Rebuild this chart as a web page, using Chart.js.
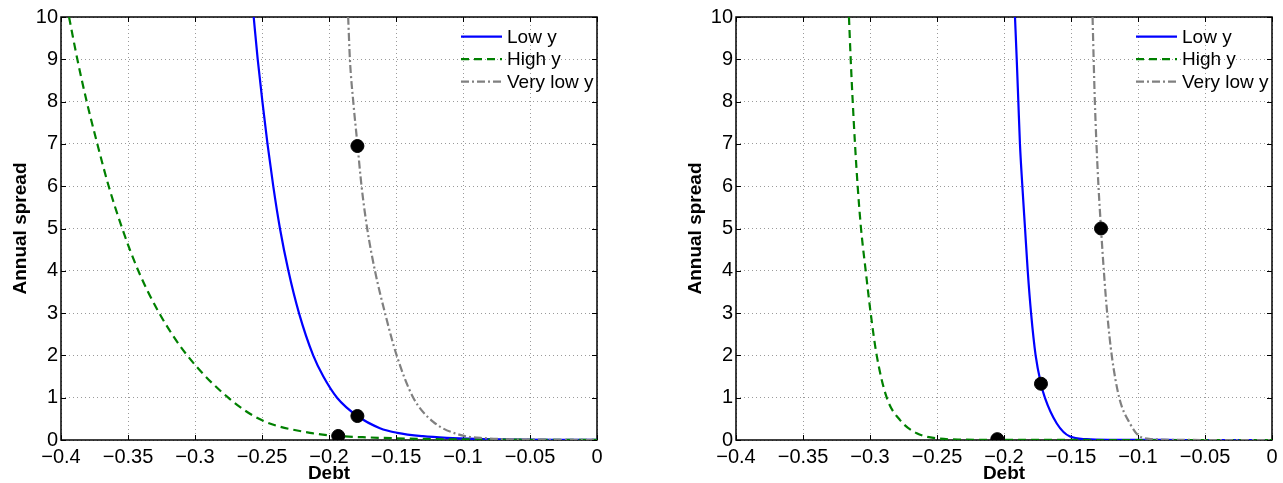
<!DOCTYPE html>
<html>
<head>
<meta charset="utf-8">
<script src="https://cdn.jsdelivr.net/npm/chart.js@4.4.1/dist/chart.umd.min.js"></script>
<style>
  html, body { margin: 0; padding: 0; background: #fff; }
  body { width: 1283px; height: 483px; position: relative; overflow: hidden; }
  .panel { position: absolute; top: 0; width: 608px; height: 483px; }
  #leftPanel { left: 0; }
  #rightPanel { left: 675px; }
</style>
</head>
<body>
<div class="panel" id="leftPanel"><canvas id="leftChart"></canvas></div>
<div class="panel" id="rightPanel"><canvas id="rightChart"></canvas></div>
<script>
const seriesLabels = ['Low y', 'High y', 'Very low y'];
const xTicks = [-0.4, -0.35, -0.3, -0.25, -0.2, -0.15, -0.1, -0.05, 0];
const yTicks = [0, 1, 2, 3, 4, 5, 6, 7, 8, 9, 10];

// left panel
const leftLowX = [-0.2562, -0.2532, -0.2497, -0.2459, -0.2416, -0.2366, -0.2303, -0.2224, -0.2118, -0.2042, -0.1940, -0.1788, -0.1620, -0.1490, -0.1300, -0.1120, -0.0900, -0.0600, -0.0300, 0];
const leftLowY = [10, 9, 8, 7, 6, 5, 4, 3, 2, 1.5, 1, 0.567, 0.28, 0.17, 0.09, 0.05, 0.025, 0.01, 0.004, 0.002];
const leftHighX = [-0.3940, -0.3878, -0.3808, -0.3729, -0.3644, -0.3543, -0.3423, -0.3267, -0.3058, -0.2752, -0.2503, -0.2142, -0.1931, -0.1700, -0.1495, -0.1200, -0.0800, -0.0400, 0];
const leftHighY = [10, 9, 8, 7, 6, 5, 4, 3, 2, 1, 0.47, 0.17, 0.095, 0.06, 0.04, 0.02, 0.01, 0.005, 0.002];
const leftVeryLowX = [-0.1857, -0.1844, -0.1819, -0.1788, -0.1757, -0.1715, -0.1657, -0.1582, -0.1495, -0.1371, -0.1222, -0.1022, -0.0823, -0.0600, -0.0300, 0];
const leftVeryLowY = [10, 9, 8, 7, 6, 5, 4, 3, 2, 1, 0.43, 0.12, 0.04, 0.015, 0.005, 0.002];
const leftDotsX = [-0.1788, -0.1931, -0.1788];
const leftDotsY = [0.567, 0.095, 6.95];

// right panel
const rightLowX = [-0.1918, -0.1905, -0.1893, -0.1881, -0.1863, -0.1843, -0.1823, -0.1798, -0.1764, -0.1724, -0.1695, -0.1606, -0.1507, -0.1383, -0.1200, -0.0800, -0.0400, 0];
const rightLowY = [10, 9, 8, 7, 6, 5, 4, 3, 2, 1.33, 1, 0.39, 0.08, 0.02, 0.005, 0.001, 0, 0];
const rightHighX = [-0.3157, -0.3144, -0.3129, -0.3112, -0.3092, -0.3067, -0.3032, -0.2995, -0.2950, -0.2875, -0.2776, -0.2651, -0.2502, -0.2300, -0.2000, -0.1500, -0.1000, -0.0500, 0];
const rightHighY = [10, 9, 8, 7, 6, 5, 4, 3, 2, 1, 0.47, 0.16, 0.04, 0.01, 0.003, 0.001, 0, 0, 0];
const rightVeryLowX = [-0.1339, -0.1331, -0.1322, -0.1310, -0.1295, -0.1276, -0.1255, -0.1230, -0.1196, -0.1140, -0.1060, -0.0985, -0.0886, -0.0700, -0.0400, 0];
const rightVeryLowY = [10, 9, 8, 7, 6, 5, 4, 3, 2, 1, 0.39, 0.08, 0.02, 0.004, 0, 0];
const rightDotsX = [-0.1724, -0.205, -0.1276];
const rightDotsY = [1.33, 0.02, 5.0];

const FONT = '"Liberation Sans", Arial, Helvetica, sans-serif';
const TICK_LEN = 5;

function pts(xs, ys) {
    return xs.map((x, i) => ({ x: x, y: ys[i] }));
}

function fmtTick(v) {
    const r = Math.round(v * 100) / 100;
    return r < 0 ? '\u2212' + String(-r) : String(r);
}

// box, inward ticks and legend the matlab way
const matlabAxes = {
    id: 'matlabAxes',
    beforeDatasetsDraw(chart) {
        const { ctx, chartArea: a, scales: { x, y } } = chart;
        ctx.save();
        ctx.strokeStyle = '#000';
        ctx.lineWidth = 1;
        ctx.beginPath();
        x.ticks.forEach(t => {
            const px = Math.round(x.getPixelForValue(t.value)) + 0.5;
            ctx.moveTo(px, a.bottom); ctx.lineTo(px, a.bottom - TICK_LEN);
            ctx.moveTo(px, a.top); ctx.lineTo(px, a.top + TICK_LEN);
        });
        y.ticks.forEach(t => {
            const py = Math.round(y.getPixelForValue(t.value)) + 0.5;
            ctx.moveTo(a.left, py); ctx.lineTo(a.left + TICK_LEN, py);
            ctx.moveTo(a.right, py); ctx.lineTo(a.right - TICK_LEN, py);
        });
        ctx.stroke();
        ctx.lineWidth = 1.5;
        ctx.strokeRect(a.left, a.top, a.right - a.left, a.bottom - a.top);
        ctx.restore();
    },
    afterDraw(chart) {
        const { ctx, chartArea: a } = chart;
        const items = chart.data.datasets.filter(d => d.type !== 'scatter');
        ctx.save();
        ctx.font = '19px ' + FONT;
        ctx.textBaseline = 'middle';
        ctx.textAlign = 'left';
        items.forEach((d, i) => {
            const rowY = a.top + 19.7 + i * 22.5;
            ctx.strokeStyle = d.borderColor;
            ctx.lineWidth = d.borderWidth;
            ctx.setLineDash(d.borderDash || []);
            ctx.beginPath();
            ctx.moveTo(a.right - 136, rowY);
            ctx.lineTo(a.right - 95, rowY);
            ctx.stroke();
            ctx.setLineDash([]);
            ctx.fillStyle = '#000';
            ctx.fillText(d.label, a.right - 90, rowY + 1);
        });
        ctx.restore();
    }
};

function makeChart(canvasId, low, high, veryLow, dots) {
    const ctx = document.getElementById(canvasId).getContext('2d');
    return new Chart(ctx, {
        type: 'line',
        data: {
            datasets: [{
                label: seriesLabels[0],
                data: low,
                borderColor: '#0000ff',
                borderWidth: 2.2,
                pointRadius: 0,
                cubicInterpolationMode: 'monotone',
                order: 3,
            }, {
                label: seriesLabels[1],
                data: high,
                borderColor: '#008000',
                borderWidth: 2.2,
                borderDash: [8, 5],
                pointRadius: 0,
                cubicInterpolationMode: 'monotone',
                order: 2,
            }, {
                label: seriesLabels[2],
                data: veryLow,
                borderColor: '#808080',
                borderWidth: 2.2,
                borderDash: [8, 3, 2, 3],
                pointRadius: 0,
                cubicInterpolationMode: 'monotone',
                order: 1,
            }, {
                type: 'scatter',
                data: dots,
                backgroundColor: '#000',
                borderColor: '#000',
                pointRadius: 6.5,
                pointHoverRadius: 6.5,
                showLine: false,
                order: 0,
            }]
        },
        options: {
            animation: false,
            responsive: true,
            maintainAspectRatio: false,
            events: [],
            layout: { padding: { top: 17, right: 11, left: 0, bottom: 0 } },
            scales: {
                x: {
                    type: 'linear',
                    min: -0.4,
                    max: 0,
                    afterBuildTicks: s => { s.ticks = xTicks.map(v => ({ value: v })); },
                    afterFit: s => { s.height = 43; },
                    ticks: {
                        callback: fmtTick,
                        color: '#000',
                        padding: 5,
                        maxRotation: 0,
                        autoSkip: false,
                        font: { family: FONT, size: 20 },
                    },
                    grid: { color: '#9a9a9a', lineWidth: 1, drawTicks: false },
                    border: { display: false, dash: [1, 3] },
                    title: {
                        display: true,
                        text: 'Debt',
                        color: '#000',
                        padding: { top: 0, bottom: 0 },
                        font: { family: FONT, size: 19, weight: 'bold', lineHeight: 1 },
                    },
                },
                y: {
                    min: 0,
                    max: 10,
                    afterBuildTicks: s => { s.ticks = yTicks.map(v => ({ value: v })); },
                    afterFit: s => { s.width = 61; },
                    ticks: {
                        color: '#000',
                        padding: 3,
                        font: { family: FONT, size: 20 },
                    },
                    grid: { color: '#9a9a9a', lineWidth: 1, drawTicks: false },
                    border: { display: false, dash: [1, 3] },
                    title: {
                        display: true,
                        text: 'Annual spread',
                        color: '#000',
                        padding: { top: 11, bottom: 0 },
                        font: { family: FONT, size: 19, weight: 'bold', lineHeight: 1 },
                    },
                },
            },
            plugins: {
                legend: { display: false },
                tooltip: { enabled: false },
            },
        },
        plugins: [matlabAxes],
    });
}

makeChart('leftChart',
    pts(leftLowX, leftLowY), pts(leftHighX, leftHighY),
    pts(leftVeryLowX, leftVeryLowY), pts(leftDotsX, leftDotsY));
makeChart('rightChart',
    pts(rightLowX, rightLowY), pts(rightHighX, rightHighY),
    pts(rightVeryLowX, rightVeryLowY), pts(rightDotsX, rightDotsY));
</script>
</body>
</html>
